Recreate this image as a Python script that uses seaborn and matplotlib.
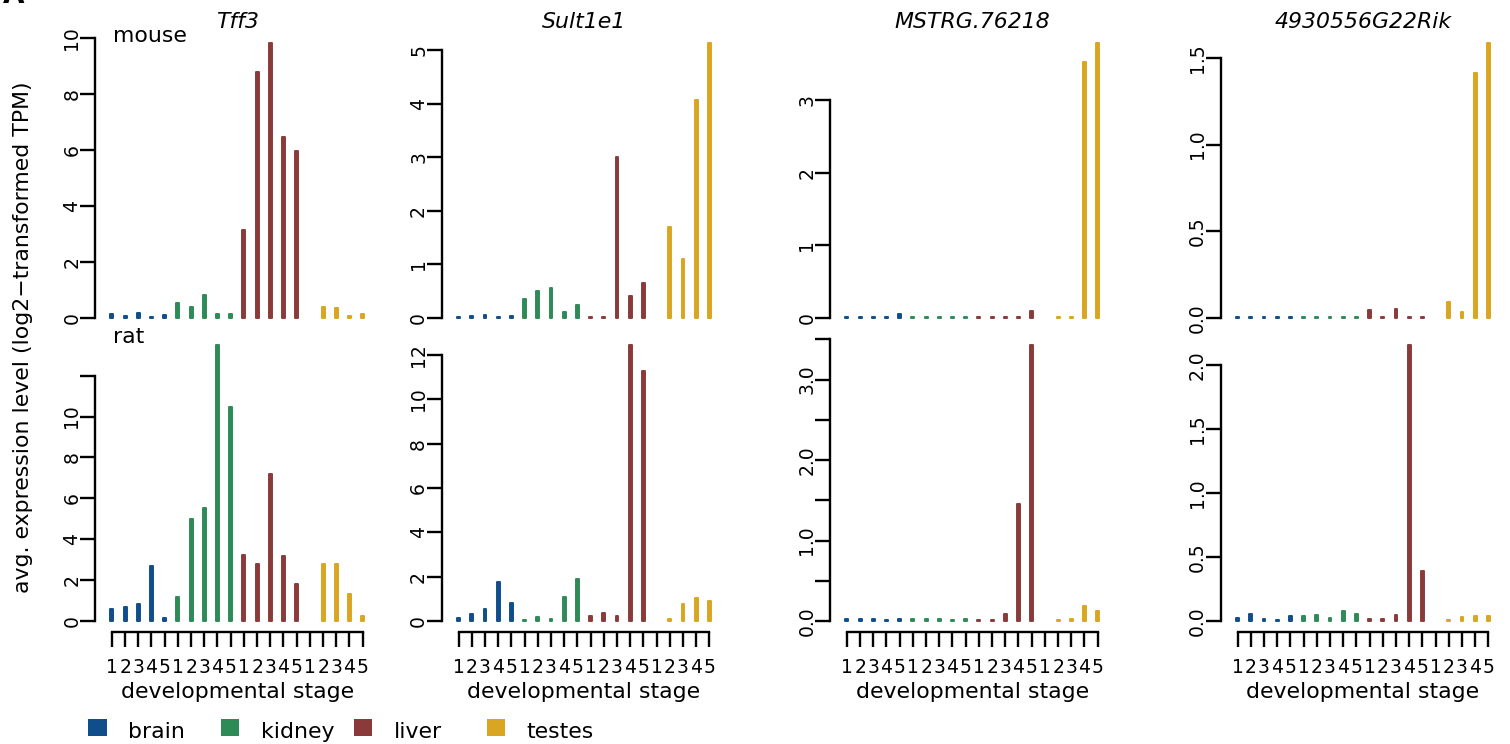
import numpy as np
import pandas as pd
import matplotlib
matplotlib.use("Agg")
import matplotlib.pyplot as plt
from matplotlib.patches import Rectangle
from matplotlib.transforms import blended_transform_factory
import seaborn as sns

# ---------------------------------------------------------------- data
TISSUES = ["brain", "kidney", "liver", "testes"]
TISSUE_COLORS = ["#104E8B", "#2E8B57", "#8B3A3A", "#DAA520"]
STAGE_LABELS = ["1", "2", "3", "4", "5"]
GENES = ["Tff3", "Sult1e1", "MSTRG.76218", "4930556G22Rik"]
SPECIES = ["mouse", "rat"]

nan = np.nan
# avg. expression per stage, ordered brain 1-5, kidney 1-5, liver 1-5, testes 1-5
TFF3_MOUSE = [0.15, 0.08, 0.18, 0.03, 0.12,
              0.53, 0.38, 0.83, 0.14, 0.15,
              3.15, 8.79, 9.82, 6.47, 5.96,
              nan, 0.39, 0.36, 0.06, 0.15]
SULT1E1_MOUSE = [0.02, 0.04, 0.06, 0.02, 0.04,
                 0.35, 0.51, 0.56, 0.11, 0.24,
                 0.02, 0.02, 3.01, 0.42, 0.65,
                 nan, 1.70, 1.10, 4.08, 5.14]
MSTRG_MOUSE = [0.01, 0.01, 0.01, 0.01, 0.06,
               0.01, 0.01, 0.01, 0.01, 0.01,
               0.01, 0.01, 0.01, 0.01, 0.09,
               nan, 0.01, 0.01, 3.53, 3.79]
RIK_MOUSE = [0.004, 0.004, 0.004, 0.004, 0.004,
             0.004, 0.004, 0.004, 0.004, 0.004,
             0.048, 0.006, 0.052, 0.006, 0.006,
             nan, 0.094, 0.033, 1.414, 1.586]

TFF3_RAT = [0.57, 0.70, 0.83, 2.69, 0.13,
            1.16, 4.98, 5.51, 13.50, 10.46,
            3.25, 2.77, 7.21, 3.18, 1.83,
            nan, 2.79, 2.81, 1.34, 0.26]
SULT1E1_RAT = [0.15, 0.32, 0.56, 1.77, 0.83,
               0.06, 0.18, 0.09, 1.08, 1.91,
               0.21, 0.35, 0.21, 12.45, 11.28,
               nan, 0.08, 0.78, 1.02, 0.90]
MSTRG_RAT = [0.02, 0.025, 0.02, 0.01, 0.02,
             0.02, 0.02, 0.02, 0.01, 0.03,
             0.01, 0.01, 0.09, 1.45, 3.43,
             nan, 0.01, 0.03, 0.19, 0.13]
RIK_RAT = [0.026, 0.057, 0.018, 0.008, 0.042,
           0.036, 0.044, 0.021, 0.081, 0.052,
           0.018, 0.018, 0.049, 2.156, 0.39,
           nan, 0.008, 0.029, 0.036, 0.036]

# y-axis ticks and their labels for each panel
TFF3_MOUSE_TICKS = [0, 2, 4, 6, 8, 10]
TFF3_MOUSE_LABELS = ["0", "2", "4", "6", "8", "10"]
SULT1E1_MOUSE_TICKS = [0, 1, 2, 3, 4, 5]
SULT1E1_MOUSE_LABELS = ["0", "1", "2", "3", "4", "5"]
MSTRG_MOUSE_TICKS = [0, 1, 2, 3]
MSTRG_MOUSE_LABELS = ["0", "1", "2", "3"]
RIK_MOUSE_TICKS = [0.0, 0.5, 1.0, 1.5]
RIK_MOUSE_LABELS = ["0.0", "0.5", "1.0", "1.5"]
TFF3_RAT_TICKS = [0, 2, 4, 6, 8, 10, 12]
TFF3_RAT_LABELS = ["0", "2", "4", "6", "8", "10", ""]
SULT1E1_RAT_TICKS = [0, 2, 4, 6, 8, 10, 12]
SULT1E1_RAT_LABELS = ["0", "2", "4", "6", "8", "10", "12"]
MSTRG_RAT_TICKS = [0.0, 0.5, 1.0, 1.5, 2.0, 2.5, 3.0, 3.5]
MSTRG_RAT_LABELS = ["0.0", "", "1.0", "", "2.0", "", "3.0", ""]
RIK_RAT_TICKS = [0.0, 0.5, 1.0, 1.5, 2.0]
RIK_RAT_LABELS = ["0.0", "0.5", "1.0", "1.5", "2.0"]

PANELS = [
    [(TFF3_MOUSE, TFF3_MOUSE_TICKS, TFF3_MOUSE_LABELS),
     (SULT1E1_MOUSE, SULT1E1_MOUSE_TICKS, SULT1E1_MOUSE_LABELS),
     (MSTRG_MOUSE, MSTRG_MOUSE_TICKS, MSTRG_MOUSE_LABELS),
     (RIK_MOUSE, RIK_MOUSE_TICKS, RIK_MOUSE_LABELS)],
    [(TFF3_RAT, TFF3_RAT_TICKS, TFF3_RAT_LABELS),
     (SULT1E1_RAT, SULT1E1_RAT_TICKS, SULT1E1_RAT_LABELS),
     (MSTRG_RAT, MSTRG_RAT_TICKS, MSTRG_RAT_LABELS),
     (RIK_RAT, RIK_RAT_TICKS, RIK_RAT_LABELS)],
]

# ---------------------------------------------------------------- style
sns.set_style("white")
plt.rcParams["font.family"] = ["DejaVu Sans"]
plt.rcParams.update({
    "axes.linewidth": 1.7,
    "axes.edgecolor": "black",
    "text.color": "black",
    "axes.labelcolor": "black",
    "xtick.color": "black",
    "ytick.color": "black",
    "xtick.labelcolor": "black",
    "ytick.labelcolor": "black",
})

W, H = 1510, 744
fig = plt.figure(figsize=(W / 100, H / 100), dpi=100)
fig.patch.set_facecolor("white")

col_left = [95, 441.7, 830, 1220.7]      # pixel x of each y-axis
row_top = [32, 334]
row_bottom = [329, 632]
XMIN, XMAX = -0.28, 20.76
UNIT = 13.2                              # pixels per stage slot
ax_w = (XMAX - XMIN) * UNIT

positions = np.arange(1, 21)
tissue_col = np.repeat(TISSUES, 5)
stage_tick_labels = STAGE_LABELS * 4

FS_TEXT = 15.8
FS_TICK = 13.5

for r, row in enumerate(PANELS):
    for c, (values, yticks, ylabels) in enumerate(row):
        top, bottom = row_top[r], row_bottom[r]
        ax = fig.add_axes([col_left[c] / W, 1 - bottom / H,
                           ax_w / W, (bottom - top) / H])
        df = pd.DataFrame({"stage": positions, "value": values,
                           "tissue": tissue_col}).dropna()
        sns.barplot(data=df, x="stage", y="value", hue="tissue",
                    hue_order=TISSUES, palette=TISSUE_COLORS,
                    native_scale=True, dodge=False, width=0.22,
                    saturation=1, errorbar=None, legend=False,
                    linewidth=0, ax=ax)
        for p in ax.patches:
            p.set_edgecolor(p.get_facecolor())
            p.set_linewidth(1.4)
            p.set_joinstyle("round")

        vmax = np.nanmax(values)
        ax.set_xlim(XMIN, XMAX)
        ax.set_ylim(-0.04 * vmax, 1.04 * vmax)
        ax.set_xlabel("")
        ax.set_ylabel("")
        ax.set_facecolor("none")

        for s in ["top", "right"]:
            ax.spines[s].set_visible(False)
        ax.spines["left"].set_bounds(yticks[0], yticks[-1])
        ax.spines["left"].set_linewidth(1.7)
        ax.spines["left"].set_color("black")

        ax.set_yticks(yticks)
        ax.set_yticklabels(ylabels, rotation=90, va="center")
        ax.tick_params(axis="y", direction="out", length=10.8, width=1.7,
                       pad=-1, labelsize=FS_TICK, left=True,
                       color="black", labelcolor="black")

        if r == 0:
            ax.spines["bottom"].set_visible(False)
            ax.set_xticks([])
            trans = blended_transform_factory(ax.transData, fig.transFigure)
            ax.text(10.5, 1 - 27.5 / H, GENES[c], transform=trans,
                    ha="center", va="baseline", fontsize=FS_TEXT,
                    style="italic", color="black")
        else:
            ax.spines["bottom"].set_bounds(1, 20)
            ax.spines["bottom"].set_linewidth(1.7)
            ax.spines["bottom"].set_color("black")
            ax.set_xticks(positions)
            ax.set_xticklabels(stage_tick_labels)
            ax.tick_params(axis="x", direction="out", length=10.8, width=1.7,
                           pad=7.9, labelsize=FS_TICK, bottom=True,
                           color="black", labelcolor="black")
            trans = blended_transform_factory(ax.transData, fig.transFigure)
            ax.text(10.5, 1 - 698 / H, "developmental stage", transform=trans,
                    ha="center", va="baseline", fontsize=FS_TEXT,
                    color="black")

# species labels
fig.text(113 / W, 1 - 42 / H, SPECIES[0], ha="left", va="baseline",
         fontsize=FS_TEXT, color="black")
fig.text(113 / W, 1 - 343 / H, SPECIES[1], ha="left", va="baseline",
         fontsize=FS_TEXT, color="black")

# shared y label
fig.text(23 / W, 1 - 337 / H, "avg. expression level (log2\u2212transformed TPM)",
         rotation=90, ha="center", va="center", fontsize=FS_TEXT,
         color="black")

# panel letter, sitting at the very top edge
fig.text(14 / W, 1 - 3 / H, "A", ha="center", va="baseline",
         fontsize=20, fontweight="bold", color="black")

# tissue legend
key_x = [88, 220.7, 353.6, 486.8]
for i, name in enumerate(TISSUES):
    fig.add_artist(Rectangle((key_x[i] / W, 1 - 736.4 / H), 18.5 / W, 17 / H,
                             transform=fig.transFigure,
                             facecolor=TISSUE_COLORS[i], edgecolor="none"))
    fig.text((key_x[i] + 40) / W, 1 - 738 / H, name, ha="left",
             va="baseline", fontsize=FS_TEXT, color="black")

fig.savefig("out.png", dpi=100, facecolor="white")
